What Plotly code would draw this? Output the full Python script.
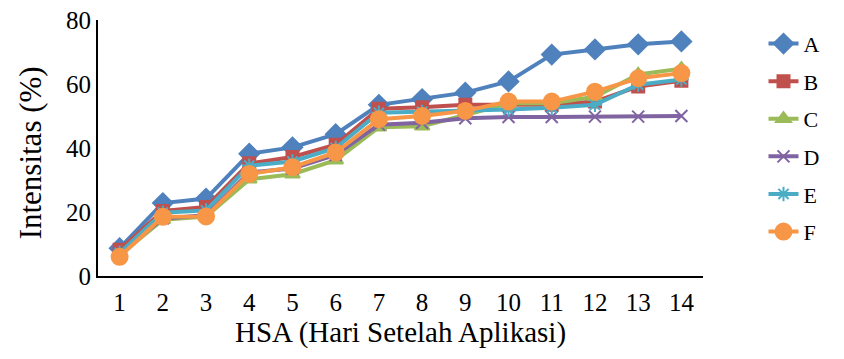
import plotly.graph_objects as go

days = [str(i) for i in range(1, 15)]
A = [8.7, 22.8, 24.2, 38.2, 40.2, 44.3, 53.5, 55.3, 57.3, 60.8, 69.2, 70.8, 72.4, 73.3]
B = [8.2, 20.3, 21.6, 35.2, 37.2, 41.0, 52.3, 52.7, 53.5, 53.5, 53.5, 54.5, 59.2, 61.0]
C = [6.5, 17.6, 18.6, 30.2, 31.8, 36.2, 46.5, 46.8, 50.3, 54.0, 54.0, 56.0, 63.0, 64.8]
D = [7.0, 18.0, 19.0, 32.4, 33.6, 37.8, 47.3, 47.9, 49.3, 49.7, 49.7, 49.8, 49.8, 50.0]
E = [7.2, 19.8, 20.5, 34.5, 35.8, 40.0, 51.0, 51.3, 51.5, 52.0, 52.6, 53.5, 59.8, 61.4]
F = [6.0, 18.5, 18.6, 31.9, 34.0, 38.6, 49.0, 50.0, 51.6, 54.5, 54.5, 57.6, 61.8, 63.4]

x_title = "HSA (Hari Setelah Aplikasi)"
y_title = "Intensitas (%)"

series = [
    ("A", A, "#4F81BD", "diamond", 15),
    ("B", B, "#C0504D", "square", 12),
    ("C", C, "#9BBB59", "triangle-up", 13),
    ("D", D, "#8064A2", "x-thin-open", 12),
    ("E", E, "#4BACC6", "asterisk-open", 12),
    ("F", F, "#F79646", "circle", 16),
]

fig = go.Figure()
for i, (name, vals, color, sym, size) in enumerate(series):
    fig.add_trace(go.Scatter(
        x=days, y=vals, name=name, mode="lines+markers",
        legendgroup=name,
        line=dict(color=color, width=4),
        marker=dict(symbol=sym, size=size, color=color,
                    line=dict(color=color, width=2)),
    ))

font = "Liberation Serif, Times New Roman, serif"
fig.update_layout(
    width=828, height=343,
    margin=dict(l=90, r=120, t=12, b=75),
    plot_bgcolor="white", paper_bgcolor="white",
    font=dict(family=font, size=26, color="black"),
    showlegend=True,
    legend=dict(x=1.1, y=0.54, xanchor="left", yanchor="middle",
                font=dict(family=font, size=22), tracegroupgap=6,
                traceorder="grouped", itemwidth=30, maxheight=330),
    xaxis=dict(type="category", range=[-0.5, 13.5], showgrid=False,
               automargin=False,
               showline=True, linecolor="black", linewidth=2,
               ticks="outside", ticklen=3, tickcolor="rgba(0,0,0,0)",
               tickfont=dict(family=font, size=25)),
    yaxis=dict(range=[0, 80], dtick=20, showgrid=False, zeroline=False,
               automargin=False, ticklabeloverflow="allow",
               showline=True, linecolor="black", linewidth=2,
               ticks="", tickfont=dict(family=font, size=25)),
    annotations=[
        dict(text=x_title, xref="paper", yref="paper", x=0.5, y=-0.293,
             xanchor="center", yanchor="bottom", showarrow=False,
             font=dict(family=font, size=29)),
        dict(text=y_title, xref="paper", yref="paper", x=-0.112, y=0.48,
             xanchor="center", yanchor="middle", showarrow=False,
             textangle=-90, font=dict(family=font, size=31)),
    ],
)

fig.write_html("out.html")
